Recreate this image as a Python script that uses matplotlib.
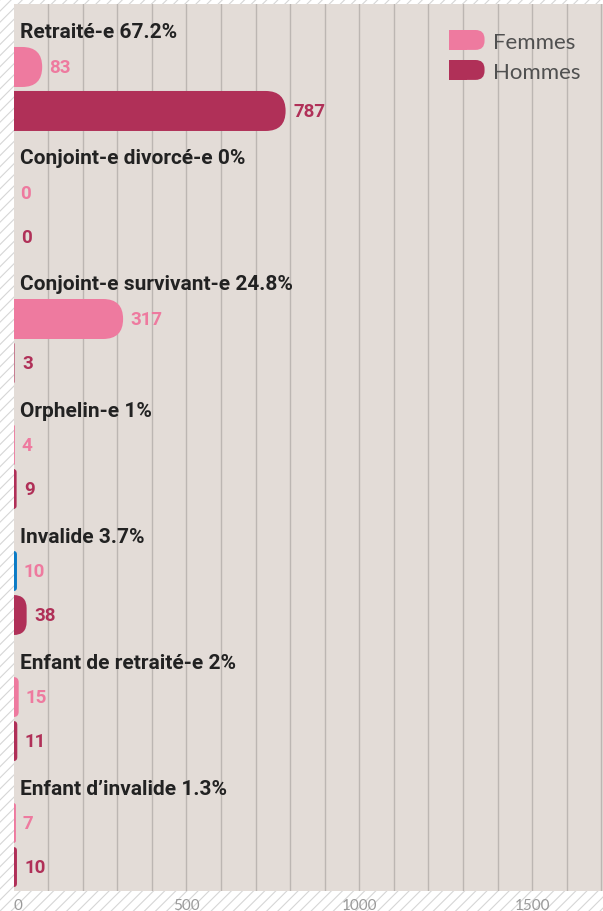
import numpy as np
import matplotlib
matplotlib.use("Agg")
from matplotlib import pyplot as plt
from matplotlib.patches import FancyBboxPatch, Rectangle
from matplotlib.legend_handler import HandlerPatch


# data
categories = ["Retraité-e", "Conjoint-e divorcé-e", "Conjoint-e survivant-e",
              "Orphelin-e", "Invalide", "Enfant de retraité-e", "Enfant d\u2019invalide"]
shares = ["67.2%", "0%", "24.8%", "1%", "3.7%", "2%", "1.3%"]
femmes = [83, 0, 317, 4, 10, 15, 7]
hommes = [787, 0, 3, 9, 38, 11, 10]

PINK = "#ee7a9f"
RED = "#b03058"
BLUE = "#0b7bc6"
BG = "#e3dcd7"

W, H = 603, 912
plt.rcParams["hatch.linewidth"] = 0.8
fig = plt.figure(figsize=(W / 100, H / 100), dpi=100)
fig.patch.set_facecolor("white")
# hatched page background
fig.patches.append(Rectangle((0, 0), 1, 1, transform=fig.transFigure,
                             facecolor="white", edgecolor="#d6d6d6",
                             hatch="///", lw=0, zorder=-10))

left, top, bottom = 13.5, 5, 892
ax = fig.add_axes([left / W, (H - bottom) / H, (W - left) / W, (bottom - top) / H])
ax.set_facecolor(BG)

xmax = 1705
ymin, ymax = -0.222, 6.817
ax.set_xlim(0, xmax)
ax.set_ylim(ymax, ymin)

px_x = (W - left) / xmax          # px per x unit
px_y = (bottom - top) / (ymax - ymin)  # px per y unit
aspect = px_x / px_y

bar_h = 40 / px_y
off_f = 35 / px_y
off_h = 79 / px_y


def round_bar(w, yc, color):
    if w <= 0:
        return
    r_px = min(20, w * px_x)
    r = r_px / px_x
    p = FancyBboxPatch((-r, yc - bar_h / 2), w + r, bar_h,
                       boxstyle="round,pad=0,rounding_size=%f" % r,
                       mutation_aspect=aspect, facecolor=color,
                       edgecolor="none", zorder=3)
    ax.add_patch(p)


for i, cat in enumerate(categories):
    ax.text(19, i, "%s %s" % (cat, shares[i]), fontsize=15, fontweight="bold",
            family="Roboto", color="#222222", va="center", ha="left", zorder=4)
    fcol = BLUE if cat == "Invalide" else PINK
    round_bar(femmes[i], i + off_f, fcol)
    round_bar(hommes[i], i + off_h, RED)
    ax.text(femmes[i] + 20, i + off_f, str(femmes[i]), fontsize=13.5,
            fontweight="bold", family="Roboto", color=PINK, va="center", zorder=4)
    ax.text(hommes[i] + 22, i + off_h, str(hommes[i]), fontsize=13.5,
            fontweight="bold", family="Roboto", color=RED, va="center", zorder=4)

# grid
for gx in np.arange(100, xmax, 100):
    ax.axvline(gx, color="#bcb6b2", lw=1, zorder=1)
for s in ax.spines.values():
    s.set_visible(False)
ax.set_yticks([])
ax.set_xticks([0, 500, 1000, 1500])
ax.set_xticklabels(["0", "500", "1000", "1500"], family="Lato",
                   fontsize=11, color="#9a9a9a")
ax.get_xticklabels()[0].set_ha("left")
ax.tick_params(axis="x", length=0, pad=5)


class RoundHandler(HandlerPatch):
    def create_artists(self, legend, orig_handle, xdescent, ydescent,
                       width, height, fontsize, trans):
        r = height * 0.45
        sq = Rectangle((-xdescent, -ydescent), width / 2, height,
                       facecolor=orig_handle.get_facecolor(), lw=0,
                       transform=trans)
        rd = FancyBboxPatch((-xdescent, -ydescent), width, height,
                            boxstyle="round,pad=0,rounding_size=%f" % r,
                            facecolor=orig_handle.get_facecolor(), lw=0,
                            transform=trans)
        return [sq, rd]


hf = Rectangle((0, 0), 1, 1, facecolor=PINK)
hh = Rectangle((0, 0), 1, 1, facecolor=RED)
leg = ax.legend([hf, hh], ["Femmes", "Hommes"], loc="upper left",
                bbox_to_anchor=((449 - left) / (W - left), 1 - (31 - top) / (bottom - top)),
                frameon=False, borderpad=0, borderaxespad=0,
                handlelength=1.6, handleheight=1.0, handletextpad=0.4,
                labelspacing=0.38,
                prop={"family": "Lato", "size": 16},
                handler_map={Rectangle: RoundHandler()})
for t in leg.get_texts():
    t.set_color("#505050")

fig.savefig("out.png", dpi=100, facecolor=fig.get_facecolor())
